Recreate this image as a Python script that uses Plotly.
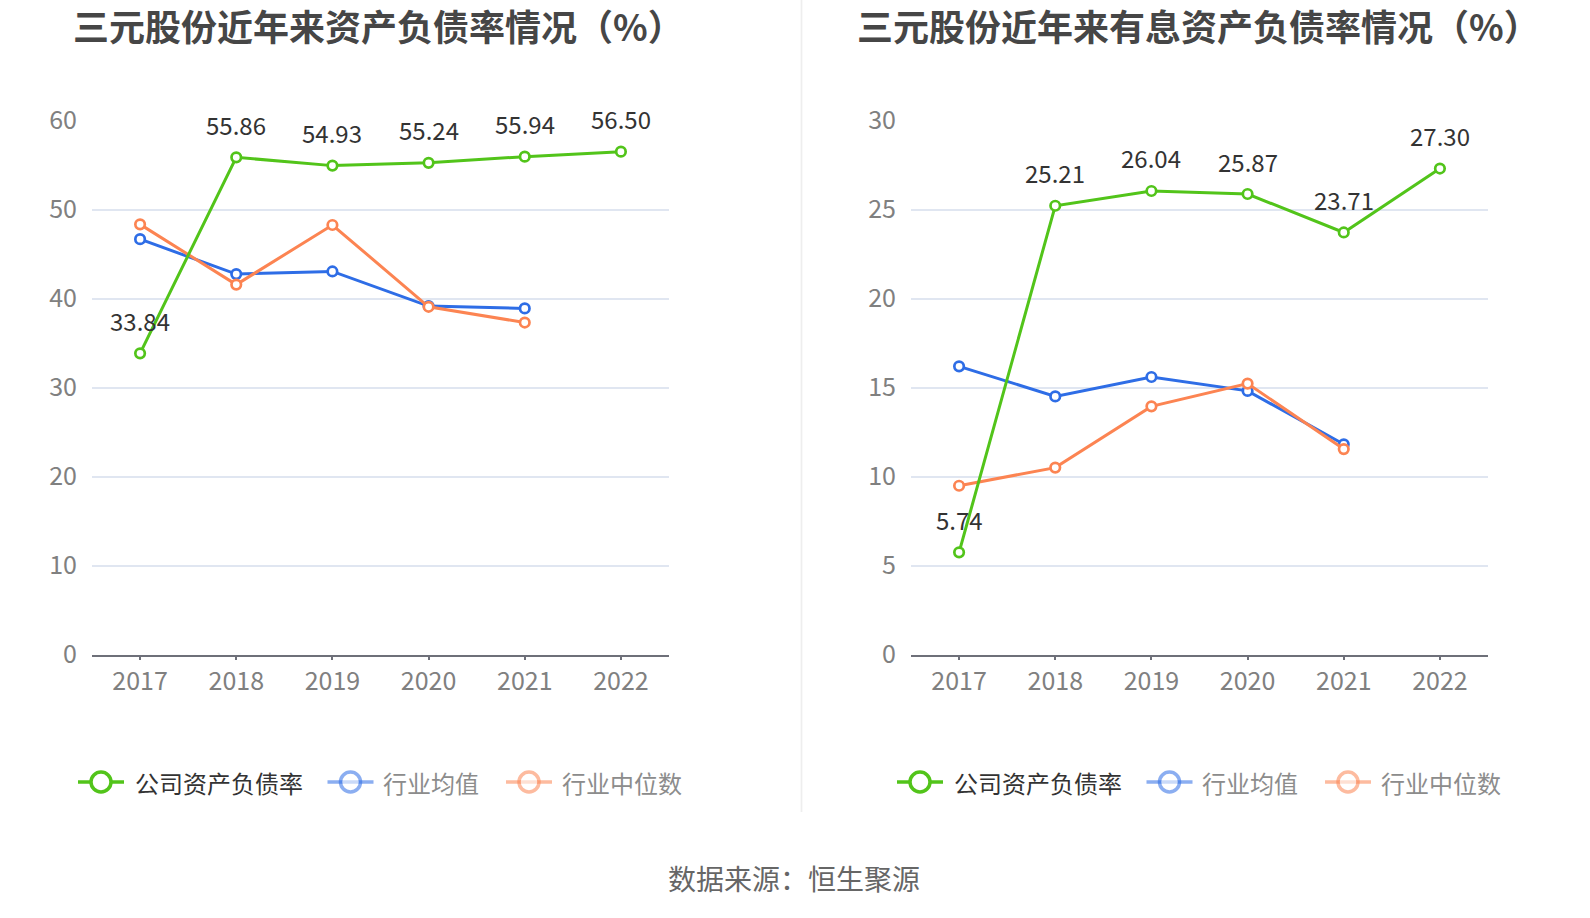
import plotly.graph_objects as go

W, H = 1590, 918
FONT = "Noto Sans CJK SC"

years = ["2017", "2018", "2019", "2020", "2021", "2022"]

# Left chart: 资产负债率 (%)
left_company = [33.84, 55.86, 54.93, 55.24, 55.94, 56.50]
left_avg = [46.67, 42.74, 43.04, 39.15, 38.89]
left_median = [48.33, 41.56, 48.26, 39.07, 37.30]

# Right chart: 有息资产负债率 (%)
right_company = [5.74, 25.21, 26.04, 25.87, 23.71, 27.30]
right_avg = [16.19, 14.50, 15.59, 14.81, 11.81]
right_median = [9.48, 10.50, 13.94, 15.22, 11.54]

titles = ["三元股份近年来资产负债率情况（%）", "三元股份近年来有息资产负债率情况（%）"]
series_names = ["公司资产负债率", "行业均值", "行业中位数"]
source_text = "数据来源：恒生聚源"

GREEN = "#52c41a"
BLUE = "#2e6de6"
ORANGE = "#fc8452"
GRID = "#e0e6f1"
AXIS = "#6e7079"
TICK = "#808080"

def px(x):
    return x / W

def py(y):
    return 1 - y / H

fig = go.Figure()

panels = [
    dict(xa="x", ya="y", comp=left_company, avg=left_avg, med=left_median,
         xdom=[px(92), px(669)]),
    dict(xa="x2", ya="y2", comp=right_company, avg=right_avg, med=right_median,
         xdom=[px(911), px(1488)]),
]

annotations = []
for i, p in enumerate(panels):
    for vals, color in [(p["avg"], BLUE), (p["med"], ORANGE), (p["comp"], GREEN)]:
        fig.add_trace(go.Scatter(
            x=years[:len(vals)], y=vals, xaxis=p["xa"], yaxis=p["ya"],
            mode="lines+markers", showlegend=False, hoverinfo="skip",
            line=dict(color=color, width=3),
            marker=dict(symbol="circle", size=9.5, color="white",
                        line=dict(color=color, width=2.7)),
        ))
    for idx, v in enumerate(p["comp"]):
        annotations.append(dict(
            x=idx, y=v, xref=p["xa"], yref=p["ya"], text=f"{v:.2f}",
            showarrow=False, yshift=33,
            font=dict(family=FONT, size=24, color="#333333"),
        ))

axis_common_x = dict(
    type="category", range=[-0.5, 5.5], showgrid=False, zeroline=False,
    showline=True, linecolor=AXIS, linewidth=1.5,
    ticks="outside", ticklen=4, tickcolor=AXIS, tickwidth=1.5,
    tickfont=dict(family=FONT, size=25, color=TICK),
    fixedrange=True, automargin=False,
)

def yaxis(rng, dt):
    return dict(
        range=rng, dtick=dt, tick0=0, showgrid=True, gridcolor=GRID, gridwidth=1.5,
        zeroline=False, showline=False, ticks="",
        tickfont=dict(family=FONT, size=25, color=TICK),
        ticklabelstandoff=14, fixedrange=True, automargin=False,
    )

ydom = [py(654.5), py(120.5)]

layout = dict(
    width=W, height=H, autosize=False,
    margin=dict(l=0, r=0, t=0, b=0, pad=0, autoexpand=False),
    paper_bgcolor="white", plot_bgcolor="white",
    showlegend=False,
    xaxis=dict(domain=panels[0]["xdom"], anchor="y", **axis_common_x),
    yaxis=dict(domain=ydom, anchor="x", **yaxis([0, 60], 10)),
    xaxis2=dict(domain=panels[1]["xdom"], anchor="y2", **axis_common_x),
    yaxis2=dict(domain=ydom, anchor="x2", **yaxis([0, 30], 5)),
)

# Titles
for t, lx in zip(titles, [71, 855]):
    annotations.append(dict(
        x=px(lx), y=py(24.5), xref="paper", yref="paper", text=f"<b>{t}</b>",
        showarrow=False, xanchor="left", yanchor="middle",
        font=dict(family=FONT, size=36, color="#464646"),
    ))

# Source
annotations.append(dict(
    x=px(794), y=py(878), xref="paper", yref="paper", text=source_text,
    showarrow=False, xanchor="center", yanchor="middle",
    font=dict(family=FONT, size=28, color="#666666"),
))

shapes = []
# Divider
shapes.append(dict(type="line", xref="paper", yref="paper",
                   x0=px(801.5), x1=px(801.5), y0=1.0, y1=py(812),
                   line=dict(color="#eeeeee", width=1.7)))

# Manual legends
legend_y = 782
colors = [GREEN, BLUE, ORANGE]
text_colors = ["#333333", "#8c8c8c", "#8c8c8c"]
opac = [1.0, 0.55, 0.55]
for offset in [0, 819]:
    icon_x0 = [78, 327.5, 506]
    text_x = [133, 381, 560]
    for k in range(3):
        x0 = icon_x0[k] + offset
        x1 = x0 + 46
        cx = (x0 + x1) / 2
        shapes.append(dict(type="line", xref="paper", yref="paper",
                           x0=px(x0), x1=px(x1), y0=py(legend_y), y1=py(legend_y),
                           line=dict(color=colors[k], width=3.5), opacity=opac[k]))
        shapes.append(dict(type="circle", xref="paper", yref="paper",
                           xsizemode="pixel", ysizemode="pixel",
                           xanchor=px(cx), yanchor=py(legend_y),
                           x0=-10, x1=10, y0=-10, y1=10,
                           fillcolor="white", line=dict(color=colors[k], width=3.5),
                           opacity=opac[k]))
        annotations.append(dict(
            x=px(text_x[k] + offset), y=py(legend_y), xref="paper", yref="paper",
            text=series_names[k], showarrow=False, xanchor="left", yanchor="middle",
            font=dict(family=FONT, size=24, color=text_colors[k]),
        ))

layout["annotations"] = annotations
layout["shapes"] = shapes
fig.update_layout(**layout)

fig.write_html("out.html", config={"displayModeBar": False})
